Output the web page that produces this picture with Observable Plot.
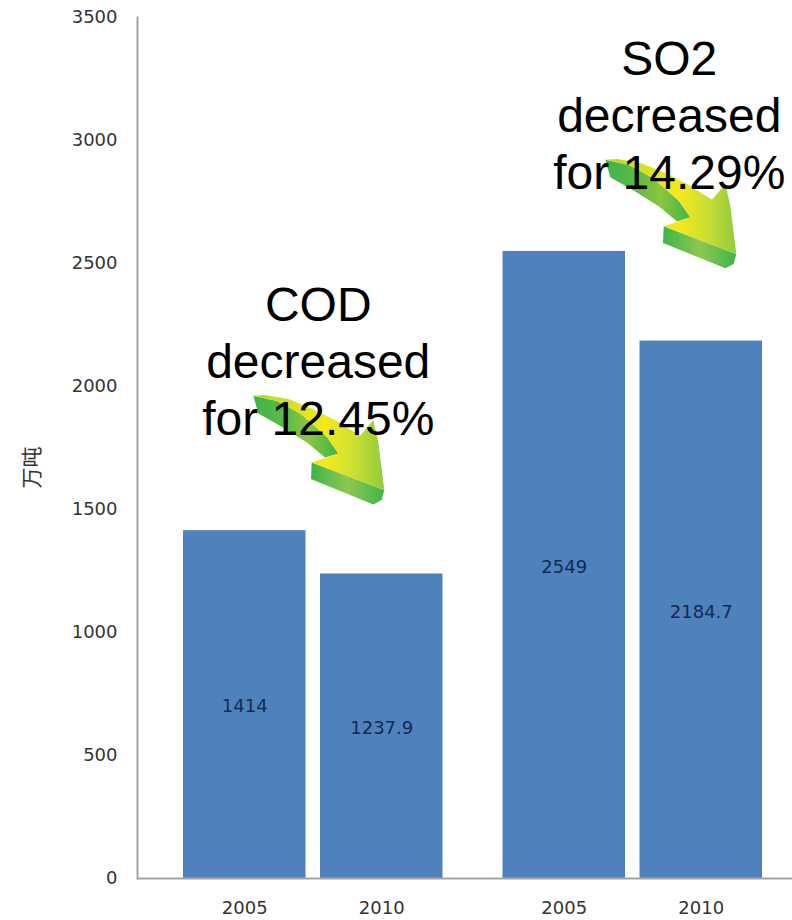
<!DOCTYPE html>
<html>
<head>
<meta charset="utf-8">
<script src="https://cdn.jsdelivr.net/npm/d3@7"></script>
<script src="https://cdn.jsdelivr.net/npm/@observablehq/plot@0.6"></script>
<style>
  html, body { margin: 0; padding: 0; background: #fff; }
  svg { display: block; }
</style>
</head>
<body>
<script>
// Emission totals, 10,000 tonnes
const pollutants = ["COD", "SO2"];
const years = ["2005", "2010"];
const codValues = [1414, 1237.9];
const so2Values = [2549, 2184.7];
const yTicks = [0, 500, 1000, 1500, 2000, 2500, 3000, 3500];

const codNote = {key: "COD 2005", text: "COD\ndecreased\nfor 12.45%", y: 2109};
const so2Note = {key: "SO2 2005", text: "SO2\ndecreased\nfor 14.29%", y: 3110};

// Arrow faces in the arrow's own drawing units
const arrowTop = [[0.3,0.7],[12,0],[35.3,4],[58.7,13.3],[82,25],[107,40.7],[120.3,25],[125.3,46.7],[131.3,95],[58.7,67.3],[85.3,58.3],[74,42],[48,19],[24,6]];
const arrowWall = [[0.3,0.7],[24,6],[48,19],[74,42],[85.3,58.3],[72,62.5],[54,47.5],[31,33],[5.3,18.3]];
const arrowFront = [[58.7,67.3],[131.3,95],[128.7,105],[120.3,109.3],[58,84]];
const arrowAnchors = [
  {key: "COD 2005", y: 1963, dx: 70},
  {key: "SO2 2005", y: 2923, dx: 148}
];

const rows = [
  ...years.map((year, i) => ({key: `COD ${year}`, pollutant: pollutants[0], year, value: codValues[i]})),
  ...years.map((year, i) => ({key: `SO2 ${year}`, pollutant: pollutants[1], year, value: so2Values[i]}))
];
const codRows = rows.filter((d) => d.pollutant === "COD");
const so2Rows = rows.filter((d) => d.pollutant === "SO2");

// The SO2 pair sits apart from the COD pair
const groupGap = 45.5;
const barFill = "#4f81bd";
const axisColor = "#a3a3a3";
const tickText = {fontFamily: "DejaVu Sans", fontSize: 18, fill: "#333", letterSpacing: "0.7px"};

function barMarks(data, dx) {
  return [
    Plot.barY(data, {x: "key", y: "value", fill: barFill, dx}),
    Plot.text(data, {
      x: "key", y: (d) => d.value / 2, text: (d) => String(d.value), dx, dy: 2,
      ...tickText, fill: "#122a54"
    }),
    Plot.axisX({
      ticks: data.map((d) => d.key), tickFormat: (k) => k.split(" ")[1], dx,
      tickSize: 0, tickPadding: 23, label: null, ...tickText
    })
  ];
}

// Bent 3D arrow drawn as three shaded faces
function arrows(index, scales) {
  const g = d3.create("svg:g");
  const defs = g.append("defs");
  const gradient = (id, stops) => {
    const lg = defs.append("linearGradient").attr("id", id)
      .attr("gradientUnits", "userSpaceOnUse")
      .attr("x1", 0).attr("x2", 132).attr("y1", 0).attr("y2", 0);
    stops.forEach(([o, c]) => lg.append("stop").attr("offset", o).attr("stop-color", c));
  };
  gradient("arrow-top", [[0, "#b4d62e"], [0.55, "#f4e91c"], [0.75, "#cfe030"], [1, "#8fcb3e"]]);
  gradient("arrow-wall", [[0, "#3db54a"], [0.25, "#5dbb46"], [0.42, "#8cc63f"], [0.65, "#3db54a"]]);
  gradient("arrow-front", [[0.44, "#3db54a"], [0.72, "#8ec750"], [1, "#3db54a"]]);
  const outline = d3.line();
  for (const a of arrowAnchors) {
    const arrow = g.append("g")
      .attr("transform", `translate(${scales.x(a.key) + a.dx},${scales.y(a.y)})`);
    arrow.append("path").attr("d", outline(arrowWall)).attr("fill", "url(#arrow-wall)");
    arrow.append("path").attr("d", outline(arrowFront)).attr("fill", "url(#arrow-front)");
    arrow.append("path").attr("d", outline(arrowTop)).attr("fill", "url(#arrow-top)");
  }
  return g.node();
}

const noteText = {
  x: "key", y: "y", text: "text",
  fontFamily: "Liberation Sans", fontSize: 48, lineHeight: 1.19, fill: "#000", lineAnchor: "middle"
};

const chart = Plot.plot({
  width: 792,
  height: 920,
  marginTop: 17,
  marginBottom: 42,
  marginLeft: 137,
  marginRight: 0,
  style: {background: "#fff"},
  x: {
    type: "band",
    domain: rows.map((d) => d.key),
    range: [183, 716.5],
    paddingInner: 0.106,
    paddingOuter: 0,
    round: false
  },
  y: {domain: [0, 3500], range: [878, 17]},
  marks: [
    ...barMarks(codRows, 0),
    ...barMarks(so2Rows, groupGap),
    Plot.ruleY([0], {stroke: axisColor, strokeWidth: 2}),
    Plot.frame({anchor: "left", stroke: axisColor, strokeWidth: 2}),
    Plot.axisY({
      ticks: yTicks, tickFormat: (d) => String(d), tickSize: 0, tickPadding: 20, label: null, ...tickText
    }),
    Plot.text(["万吨"], {
      frameAnchor: "left", textAnchor: "middle", y: 1671, dx: -105, rotate: -90,
      fontFamily: "Noto Sans CJK SC", fontSize: 21, fill: "#333"
    }),
    arrows,
    // Each block is centred a little right of its pair of bars
    Plot.text([codNote], {...noteText, dx: 73.5}),
    Plot.text([so2Note], {...noteText, dx: 105 + groupGap})
  ]
});

document.body.append(chart);
</script>
</body>
</html>
